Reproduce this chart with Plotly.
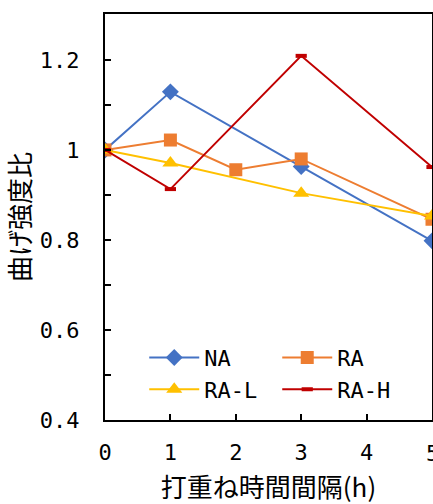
import plotly.graph_objects as go

x_na = [0, 1, 3, 5]
y_na = [1.0, 1.129, 0.963, 0.798]
x_ra = [0, 1, 2, 3, 5]
y_ra = [1.0, 1.022, 0.956, 0.980, 0.846]
x_ral = [0, 1, 3, 5]
y_ral = [1.0, 0.971, 0.904, 0.853]
x_rah = [0, 1, 3, 5]
y_rah = [1.0, 0.913, 1.209, 0.962]

x_ticks = [0, 1, 2, 3, 4, 5]
y_ticks = [0.4, 0.6, 0.8, 1.0, 1.2]
y_ticktext = ["0.4", "0.6", "0.8", "1", "1.2"]

names = ["NA", "RA", "RA-L", "RA-H"]
colors = ["#4472C4", "#ED7D31", "#FFC000", "#C00000"]

FONT = "Noto Sans CJK JP"
MONO = "DejaVu Sans Mono, Noto Sans CJK JP"

fig = go.Figure()
fig.add_trace(go.Scatter(x=x_na, y=y_na, name=names[0], mode="lines+markers",
                         line=dict(color=colors[0], width=2),
                         marker=dict(symbol="diamond", size=13, color=colors[0])))
fig.add_trace(go.Scatter(x=x_ra, y=y_ra, name=names[1], mode="lines+markers",
                         line=dict(color=colors[1], width=2),
                         marker=dict(symbol="square", size=13, color=colors[1])))
fig.add_trace(go.Scatter(x=x_ral, y=y_ral, name=names[2], mode="lines+markers",
                         line=dict(color=colors[2], width=2),
                         marker=dict(symbol="triangle-up", size=14, color=colors[2])))
fig.add_trace(go.Scatter(x=x_rah, y=y_rah, name=names[3], mode="lines+markers",
                         line=dict(color=colors[3], width=2),
                         marker=dict(symbol="line-ew", size=8, color=colors[3],
                                     line=dict(color=colors[3], width=4))))

# last x tick label (partly cut by the figure edge, as in the reference)
fig.add_annotation(x=x_ticks[-1], xref="x", y=0, yref="paper", yanchor="top",
                   yshift=-19, text=str(x_ticks[-1]), showarrow=False,
                   font=dict(size=22, family=MONO, color="black"))

fig.update_layout(
    width=433, height=504,
    margin=dict(l=105, r=1, t=14, b=84, autoexpand=False),
    paper_bgcolor="white", plot_bgcolor="white",
    font=dict(family=FONT, color="black", size=21),
    showlegend=True,
    legend=dict(orientation="h", x=0.12, y=0.205, xanchor="left", yanchor="top",
                entrywidth=68, font=dict(size=22, family=MONO),
                bgcolor="rgba(0,0,0,0)", tracegroupgap=0, itemwidth=50),
)
fig.update_xaxes(range=[0, 5], tickvals=x_ticks,
                 showline=True, linecolor="black", linewidth=2, mirror=True,
                 ticks="inside", ticklen=6, tickwidth=2, tickcolor="black",
                 showgrid=False, zeroline=False, automargin=False,
                 ticklabelstandoff=12,
                 tickfont=dict(size=22, family=MONO),
                 title=dict(text="打重ね時間間隔(h)", font=dict(size=26, family=FONT), standoff=20))
fig.update_yaxes(range=[0.4, 1.302], tickvals=y_ticks, ticktext=y_ticktext,
                 showline=True, linecolor="black", linewidth=2, mirror=True,
                 ticks="inside", ticklen=6, tickwidth=2, tickcolor="black",
                 minor=dict(tickvals=[0.5, 0.7, 0.9, 1.1], ticks="inside", ticklen=6, tickwidth=2, tickcolor="black"),
                 showgrid=False, zeroline=False, automargin=False,
                 ticklabelstandoff=19,
                 tickfont=dict(size=22, family=MONO),
                 title=dict(text="曲げ強度比", font=dict(size=26, family=FONT), standoff=16))

fig.write_html("out.html")
